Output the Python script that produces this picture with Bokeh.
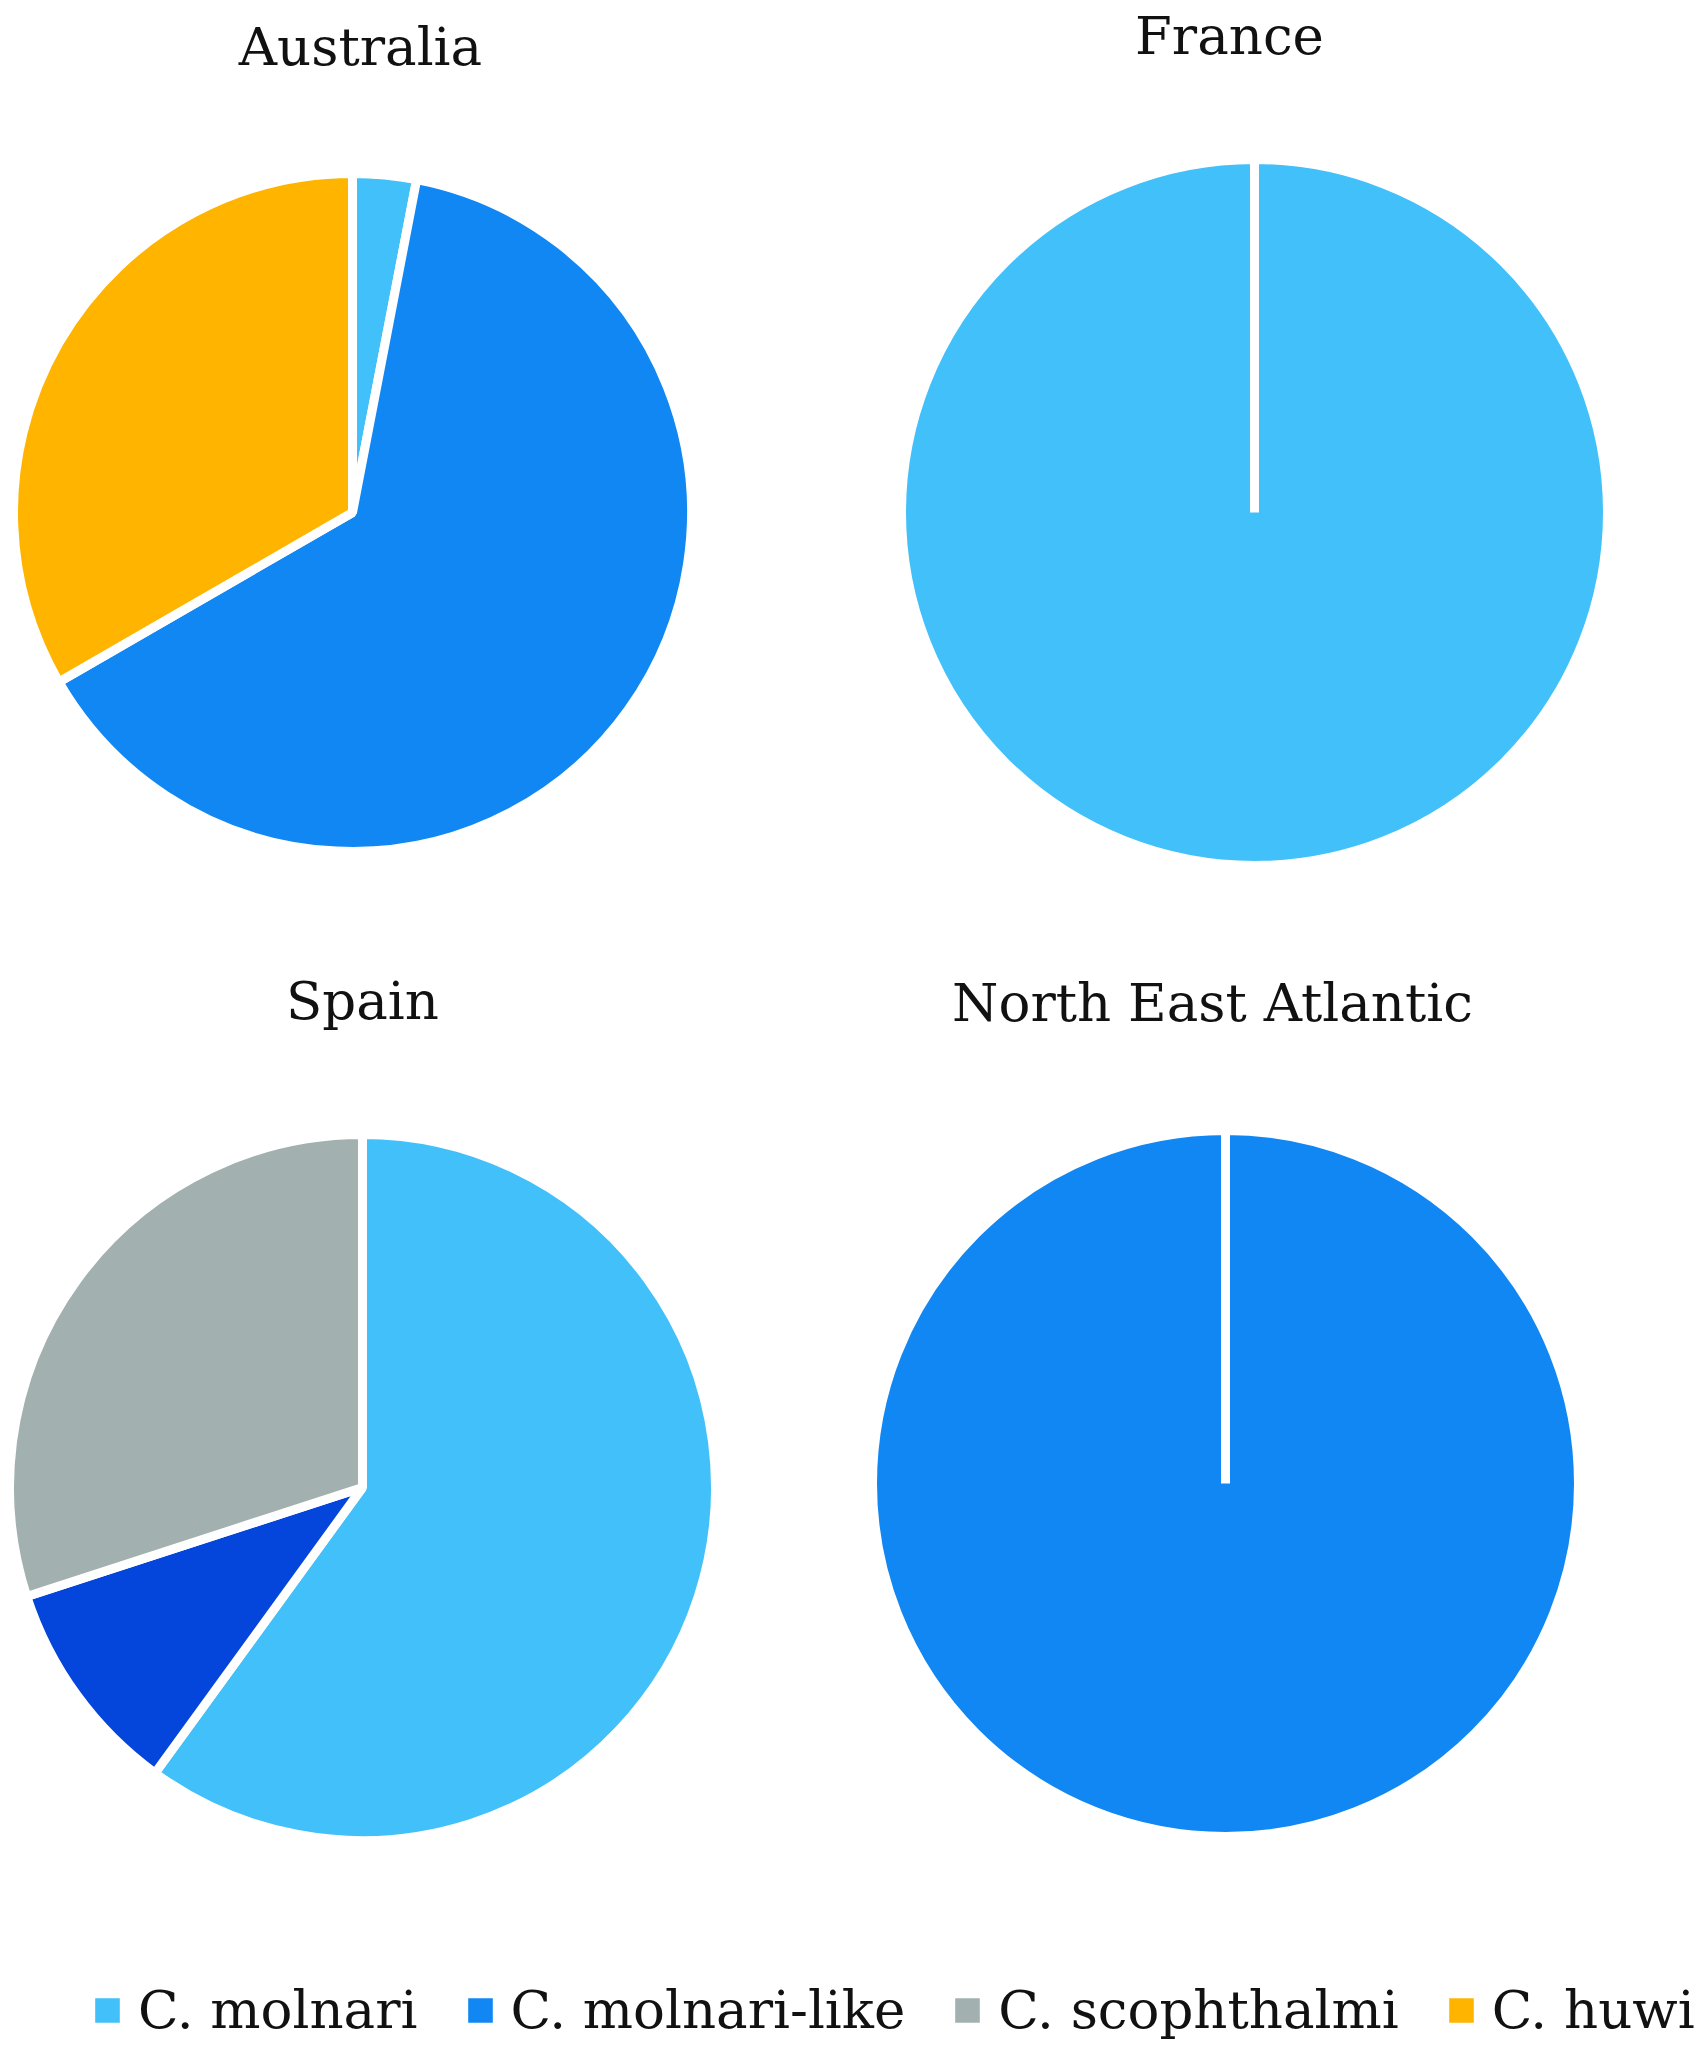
import numpy as np
from bokeh.plotting import figure
from bokeh.models import ColumnDataSource, Range1d, Legend, LegendItem
from bokeh.core.properties import value
from bokeh.embed import file_html
from bokeh.resources import INLINE

# ---- data ----
categories = ["C. molnari", "C. molnari-like", "C. scophthalmi", "C. huwi"]
cat_colors = ["#41C0FA", "#1187F3", "#A2B0B0", "#FFB400"]

australia_values = [1, 21, 0, 11]
france_values = [1, 0, 0, 0]
north_east_atlantic_values = [0, 1, 0, 0]

spain_labels = ["C. molnari", "dark blue group", "C. scophthalmi"]
spain_values = [6, 1, 3]
spain_colors = ["#41C0FA", "#0445DB", "#A2B0B0"]

titles = ["Australia", "France", "Spain", "North East Atlantic"]

# ---- layout (page pixels) ----
W, H = 1704, 2062
def fx(X):
    return X
def fy(Y):
    return H - Y

p = figure(width=W, height=H, x_range=Range1d(0, W), y_range=Range1d(0, H),
           output_backend="svg", toolbar_location=None, min_border=0)
p.axis.visible = False
p.grid.visible = False
p.outline_line_color = None
p.background_fill_color = "white"

LW = 9
pies = [
    (titles[0], categories, australia_values, cat_colors, (352, 512), 339, (360, 46)),
    (titles[1], categories, france_values, cat_colors, (1254, 512), 353, (1229, 35)),
    (titles[2], spain_labels, spain_values, spain_colors, (362, 1487), 353, (362, 1000)),
    (titles[3], categories, north_east_atlantic_values, cat_colors, (1225, 1483), 353, (1212, 1002)),
]

TWO_PI = 2 * np.pi
renderers = {}
for title, labels, vals, cols, (cx, cy), r, (tx, ty) in pies:
    keep = [i for i, v in enumerate(vals) if v > 0]
    v = np.array([vals[i] for i in keep], dtype=float)
    lab = [labels[i] for i in keep]
    col = [cols[i] for i in keep]
    frac = v / v.sum()
    cum_end = np.cumsum(frac)
    cum_start = cum_end - frac
    start = np.round(np.mod(np.pi / 2 - TWO_PI * cum_end, TWO_PI), 9)
    end = np.round(np.mod(np.pi / 2 - TWO_PI * cum_start, TWO_PI), 9)
    src = ColumnDataSource(dict(
        x=[fx(cx)] * len(v), y=[fy(cy)] * len(v),
        start=start, end=end, color=col, label=lab))
    rr = p.wedge(x="x", y="y", radius=r, start_angle="start", end_angle="end",
                 fill_color="color", line_color="white", line_width=LW, source=src)
    renderers[title] = (rr, lab)
    p.text(x=[fx(tx)], y=[fy(ty)], text=[title], text_align="center",
           text_baseline="alphabetic", text_font=value("DejaVu Serif"),
           text_font_size="53px", text_color="#111111")

# legend: pick for each category a pie renderer that contains it
items = []
for c in categories:
    for t in ["Australia", "France", "North East Atlantic", "Spain"]:
        rr, lab = renderers[t]
        if c in lab:
            items.append(LegendItem(label=c, renderers=[rr], index=lab.index(c)))
            break

legend = Legend(items=items, orientation="horizontal", location=(86, 22),
                label_text_font="DejaVu Serif", label_text_font_size="53px",
                label_text_color="#111111",
                glyph_width=42, glyph_height=42, label_standoff=10, spacing=41,
                padding=0, margin=0, border_line_alpha=0, background_fill_alpha=0)
p.add_layout(legend)

open("out.html", "w").write(file_html(p, INLINE))
